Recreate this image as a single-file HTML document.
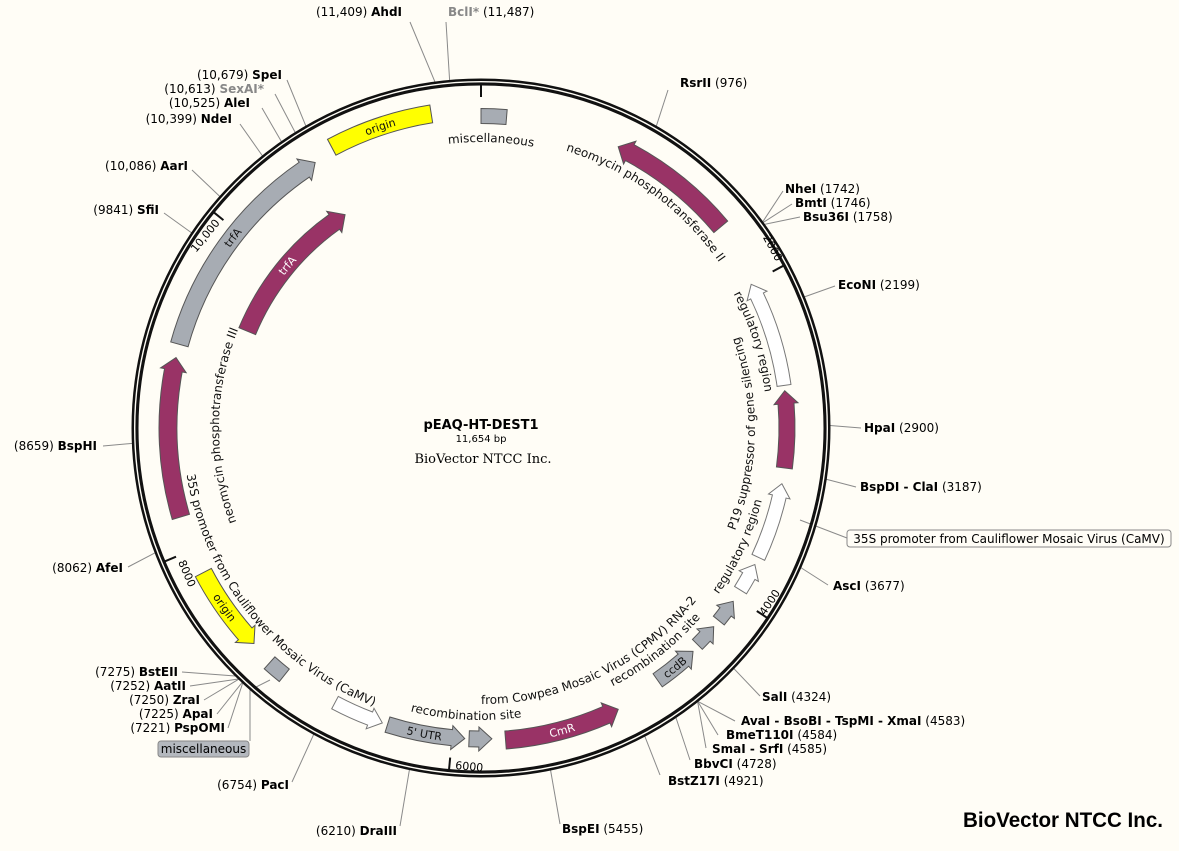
<!DOCTYPE html>
<html><head><meta charset="utf-8">
<style>
html,body{margin:0;padding:0;background:#fffdf6;}
svg{display:block;font-family:"DejaVu Sans","Liberation Sans",sans-serif;}
.l{font-size:12px;fill:#000;}
.b{font-weight:bold;}
.f{font-size:12px;fill:#111;}
</style></head><body>
<svg id="s" width="1179" height="851" viewBox="0 0 1179 851" xmlns="http://www.w3.org/2000/svg">
<rect width="1179" height="851" fill="#fffdf6"/>
<defs id="d"></defs>
<g id="lines" stroke="#8a8a8a" stroke-width="1" fill="none"></g>
<circle cx="481" cy="428" r="346" fill="none" stroke="#111" stroke-width="7"/>
<circle cx="481" cy="428" r="346.3" fill="none" stroke="#fffdf6" stroke-width="1.4"/>
<g id="feat"></g>
<g id="ticks" stroke="#111" stroke-width="2"></g>

<text x="481" y="429" text-anchor="middle" font-size="13" font-weight="bold">pEAQ-HT-DEST1</text>
<text x="481" y="442" text-anchor="middle" font-size="10">11,654 bp</text>
<text x="483" y="463" text-anchor="middle" font-size="13" font-family="DejaVu Serif, Liberation Serif, serif">BioVector NTCC Inc.</text>

<text x="1163" y="827" text-anchor="end" font-size="21" font-weight="bold" font-family="Liberation Sans, sans-serif" textLength="200" lengthAdjust="spacingAndGlyphs">BioVector NTCC Inc.</text>

<g class="f">
<text><textPath href="#p_neo2">neomycin phosphotransferase II</textPath></text>
<text><textPath href="#p_reg1">regulatory region</textPath></text>
<text><textPath href="#p_p19">P19 suppressor of gene silencing</textPath></text>
<text><textPath href="#p_reg2">regulatory region</textPath></text>
<text><textPath href="#p_rec1">recombination site</textPath></text>
<text><textPath href="#p_cpmv">from Cowpea Mosaic Virus (CPMV) RNA-2</textPath></text>
<text><textPath href="#p_rec2">recombination site</textPath></text>
<text><textPath href="#p_35s">35S promoter from Cauliflower Mosaic Virus (CaMV)</textPath></text>
<text><textPath href="#p_neo3">neomycin phosphotransferase III</textPath></text>
<text><textPath href="#p_misc" startOffset="50%" text-anchor="middle">miscellaneous</textPath></text>
</g>
<g font-size="11">
<text fill="#111"><textPath href="#p_origT" startOffset="50%" text-anchor="middle">origin</textPath></text>
<text fill="#111"><textPath href="#p_trfAo" startOffset="50%" text-anchor="middle">trfA</textPath></text>
<text fill="#fff"><textPath href="#p_trfAi" startOffset="50%" text-anchor="middle">trfA</textPath></text>
<text fill="#111"><textPath href="#p_origI" startOffset="50%" text-anchor="middle">origin</textPath></text>
<text fill="#fff"><textPath href="#p_cmr" startOffset="50%" text-anchor="middle">CmR</textPath></text>
<text fill="#111"><textPath href="#p_ccdb" startOffset="50%" text-anchor="middle">ccdB</textPath></text>
<text fill="#111"><textPath href="#p_utr" startOffset="50%" text-anchor="middle">5' UTR</textPath></text>
</g>

<g class="l" text-anchor="end">
<text x="402" y="16">(11,409)  <tspan class="b">AhdI</tspan></text>
<text x="282" y="79">(10,679)  <tspan class="b">SpeI</tspan></text>
<text x="264" y="93">(10,613)  <tspan class="b" fill="#888">SexAI*</tspan></text>
<text x="250" y="107">(10,525)  <tspan class="b">AleI</tspan></text>
<text x="232" y="123">(10,399)  <tspan class="b">NdeI</tspan></text>
<text x="188" y="170">(10,086)  <tspan class="b">AarI</tspan></text>
<text x="159" y="214">(9841)  <tspan class="b">SfiI</tspan></text>
<text x="97" y="450">(8659)  <tspan class="b">BspHI</tspan></text>
<text x="123" y="572">(8062)  <tspan class="b">AfeI</tspan></text>
<text x="178" y="676">(7275)  <tspan class="b">BstEII</tspan></text>
<text x="186" y="690">(7252)  <tspan class="b">AatII</tspan></text>
<text x="200" y="704">(7250)  <tspan class="b">ZraI</tspan></text>
<text x="213" y="718">(7225)  <tspan class="b">ApaI</tspan></text>
<text x="225" y="732">(7221)  <tspan class="b">PspOMI</tspan></text>
<text x="289" y="789">(6754)  <tspan class="b">PacI</tspan></text>
<text x="397" y="835">(6210)  <tspan class="b">DraIII</tspan></text>
</g>
<rect x="158" y="741" width="91" height="16" rx="3" fill="#b4b8be" stroke="#888"/>
<text x="203.5" y="753" text-anchor="middle" font-size="12">miscellaneous</text>
<rect x="847" y="530" width="324" height="17" rx="3" fill="#fffdf6" stroke="#888"/>
<text x="1009" y="543" text-anchor="middle" font-size="12">35S promoter from Cauliflower Mosaic Virus (CaMV)</text>

<g class="l">
<text x="448" y="16"><tspan class="b" fill="#888">BclI*</tspan>  (11,487)</text>
<text x="680" y="87"><tspan class="b">RsrII</tspan>  (976)</text>
<text x="785" y="193"><tspan class="b">NheI</tspan>  (1742)</text>
<text x="795" y="207"><tspan class="b">BmtI</tspan>  (1746)</text>
<text x="803" y="221"><tspan class="b">Bsu36I</tspan>  (1758)</text>
<text x="838" y="289"><tspan class="b">EcoNI</tspan>  (2199)</text>
<text x="864" y="432"><tspan class="b">HpaI</tspan>  (2900)</text>
<text x="860" y="491"><tspan class="b">BspDI - ClaI</tspan>  (3187)</text>
<text x="833" y="590"><tspan class="b">AscI</tspan>  (3677)</text>
<text x="762" y="701"><tspan class="b">SalI</tspan>  (4324)</text>
<text x="741" y="725"><tspan class="b">AvaI - BsoBI - TspMI - XmaI</tspan>  (4583)</text>
<text x="726" y="739"><tspan class="b">BmeT110I</tspan>  (4584)</text>
<text x="712" y="753"><tspan class="b">SmaI - SrfI</tspan>  (4585)</text>
<text x="694" y="768"><tspan class="b">BbvCI</tspan>  (4728)</text>
<text x="668" y="785"><tspan class="b">BstZ17I</tspan>  (4921)</text>
<text x="562" y="833"><tspan class="b">BspEI</tspan>  (5455)</text>
</g>

<g font-size="11">
<text text-anchor="end" transform="translate(776,262) rotate(61.8)">2000</text>
<text transform="translate(765,616) rotate(-56.4)">4000</text>
<text x="455" y="769" transform="rotate(5 455 769)">6000</text>
<text transform="translate(178,562) rotate(67)">8000</text>
<text transform="translate(196,253) rotate(-51)">10,000</text>
</g>
</svg>
<script>
(function(){
var NS="http://www.w3.org/2000/svg",cx=481,cy=428,R=function(a){return a*Math.PI/180;};
function pt(r,a){return [cx+r*Math.sin(R(a)),cy-r*Math.cos(R(a))];}
function P(p){return p[0].toFixed(2)+" "+p[1].toFixed(2);}
function el(n,at,par){var e=document.createElementNS(NS,n);for(var k in at)e.setAttribute(k,at[k]);par.appendChild(e);return e;}
function arcPath(r,a1,a2){
  var sw=a2>a1?1:0,lg=Math.abs(a2-a1)>180?1:0;
  return "M"+P(pt(r,a1))+" A"+r+" "+r+" 0 "+lg+" "+sw+" "+P(pt(r,a2));}
var feat=document.getElementById("feat"),defs=document.getElementById("d");
function band(r,w,a1,a2,dir,fill,stroke){
  var ro=r+w/2,ri=r-w/2,hl=13/r*180/Math.PI,fo=ro+4,fi=ri-4,d,h;
  if(Math.abs(a2-a1)<hl*1.3) hl=Math.abs(a2-a1)*0.6;
  if(dir=="cw"){h=a2-hl;
    d="M"+P(pt(ro,a1))+" A"+ro+" "+ro+" 0 0 1 "+P(pt(ro,h))+" L"+P(pt(fo,h))+" L"+P(pt(r,a2))+" L"+P(pt(fi,h))+" L"+P(pt(ri,h))+" A"+ri+" "+ri+" 0 0 0 "+P(pt(ri,a1))+"Z";}
  else if(dir=="ccw"){h=a1+hl;
    d="M"+P(pt(r,a1))+" L"+P(pt(fo,h))+" L"+P(pt(ro,h))+" A"+ro+" "+ro+" 0 0 1 "+P(pt(ro,a2))+" L"+P(pt(ri,a2))+" A"+ri+" "+ri+" 0 0 0 "+P(pt(ri,h))+" L"+P(pt(fi,h))+"Z";}
  else{d="M"+P(pt(ro,a1))+" A"+ro+" "+ro+" 0 0 1 "+P(pt(ro,a2))+" L"+P(pt(ri,a2))+" A"+ri+" "+ri+" 0 0 0 "+P(pt(ri,a1))+"Z";}
  el("path",{d:d,fill:fill,stroke:stroke||"#555","stroke-width":1},feat);
}
var PU="#993366",GR="#a7acb3",WH="#ffffff",YE="#ffff00";
band(313,18,26,50,"ccw",PU);
band(306,14,62,82,"ccw",WH,"#777");
band(306,16,83,97.5,"ccw",PU);
band(306,14,100.5,115,"ccw",WH,"#777");
band(306,14,116.5,122,"ccw",WH,"#777");
band(306,14,124.5,129,"ccw",GR);
band(306,14,130.5,135,"ccw",GR);
band(308,16,136.5,145,"ccw",GR);
band(313,18,154,175.5,"ccw",PU);
band(311,16,178,182.2,"ccw",GR);
band(311,16,183,197.5,"ccw",GR);
band(311,14,198.5,208,"ccw",WH,"#777");
band(316,16,218.5,222,null,GR);
band(313,18,226.5,242.5,"ccw",YE);
band(313,18,253.5,283,"cw",PU);
band(313,18,285.5,328,"cw",GR);
band(318,18,332,351,null,YE);
band(312,15,0,4.7,null,GR);
band(253,18,292.5,327.5,"cw",PU);
function tp(id,r,a1,a2){el("path",{id:id,d:arcPath(r,a1,a2),fill:"none"},defs);}
tp("p_neo2",290,17,75);
tp("p_reg1",286,62,90);
tp("p_p19",274,112,30);
tp("p_reg2",290,125,88);
tp("p_rec1",290,153,110);
tp("p_cpmv",276,180,120);
tp("p_rec2",292,194,160);
tp("p_35s",298,261,190);
tp("p_neo3",262,249,300);
tp("p_misc",286,-18,22);
tp("p_origT",314,332,351);
tp("p_trfAo",309,295,320);
tp("p_trfAi",249,295,325);
tp("p_origI",317,248,222);
tp("p_cmr",317,178,152);
tp("p_ccdb",312,148,134);
tp("p_utr",315,200,181);
var tk=document.getElementById("ticks");
[0,2000,4000,6000,8000,10000].forEach(function(t){
  var a=t/11654*360,p1=pt(343,a),p2=pt(331,a);
  el("line",{x1:p1[0],y1:p1[1],x2:p2[0],y2:p2[1]},tk);
});
var ln=document.getElementById("lines");
function L(bp,x,y){var a=bp/11654*360,p=pt(349,a);el("line",{x1:p[0],y1:p[1],x2:x,y2:y},ln);}
L(11409,410,22);L(11487,446,22);L(10679,287,80);L(10613,275,94);L(10525,262,108);L(10399,240,124);
L(10086,192,170);L(9841,164,213);L(8659,103,446);L(8062,128,567);
L(7275,182,672);L(7252,190,686);L(7250,204,700);L(7225,217,714);L(7221,228,728);
L(6754,292,782);L(6210,400,826);L(5455,560,824);L(4921,660,775);L(4728,690,760);
L(4585,706,748);L(4584,718,735);L(4583,735,721);L(4324,760,696);L(3677,828,585);
L(3187,856,487);L(2900,861,428);L(2199,835,286);L(1758,800,217);L(1746,792,204);L(1742,783,191);L(976,668,90);
el("line",{x1:800,y1:520,x2:847,y2:538},ln);
el("line",{x1:250,y1:690,x2:250,y2:741},ln);
el("line",{x1:254,y1:688,x2:270,y2:680},ln);
})();
</script>
</body></html>
